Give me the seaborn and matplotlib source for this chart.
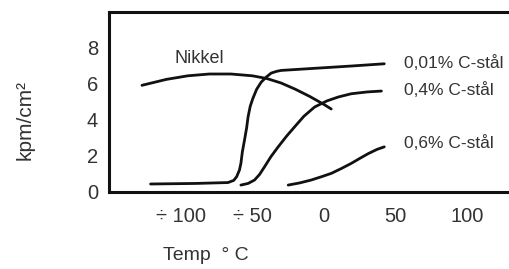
import numpy as np
import pandas as pd
import matplotlib
matplotlib.use("Agg")
import matplotlib.pyplot as plt
import seaborn as sns

# Curve values (temperature in deg C, kpm/cm2)
nikkel_t = [-127, -110, -95, -80, -65, -50, -40, -30, -20, -10, 0, 5]
nikkel_v = [5.92, 6.25, 6.45, 6.55, 6.55, 6.45, 6.3, 6.05, 5.7, 5.3, 4.85, 4.6]

c001_t = [-121, -90, -67, -63, -61, -59, -58, -57, -55.5, -54, -53, -51.5, -49.7, -47, -43.8, -40, -36.9, -33, -29.9, 0, 20, 42]
c001_v = [0.42, 0.45, 0.5, 0.62, 0.82, 1.2, 1.57, 2.2, 2.86, 3.55, 4.16, 4.75, 5.18, 5.7, 6.1, 6.4, 6.6, 6.7, 6.75, 6.9, 7.0, 7.12]

c04_t = [-58, -53, -48.5, -45, -41.5, -37, -32, -26, -20.6, -14, -6.6, 2, 10, 19, 30, 40]
c04_v = [0.36, 0.45, 0.64, 0.95, 1.38, 1.95, 2.49, 3.1, 3.6, 4.2, 4.71, 5.05, 5.27, 5.45, 5.55, 5.6]

c06_t = [-25, -17, -9, -2, 5, 12, 19, 25, 31, 37, 42]
c06_v = [0.36, 0.48, 0.64, 0.82, 1.01, 1.28, 1.57, 1.85, 2.12, 2.35, 2.49]

labels = ["0,01% C-stål", "0,4% C-stål", "0,6% C-stål"]
label_y = [7.15, 5.65, 2.72]
xticks = [-100, -50, 0, 50, 100]
xtick_labels = ["÷ 100", "÷ 50", "0", "50", "100"]
yticks = [0, 2, 4, 6, 8]

df = pd.concat([
    pd.DataFrame({"t": nikkel_t, "v": nikkel_v, "s": "Nikkel"}),
    pd.DataFrame({"t": c001_t, "v": c001_v, "s": labels[0]}),
    pd.DataFrame({"t": c04_t, "v": c04_v, "s": labels[1]}),
    pd.DataFrame({"t": c06_t, "v": c06_v, "s": labels[2]}),
])

sns.set_style("white")
plt.rcParams["font.family"] = ["Liberation Sans", "DejaVu Sans"]
text_col = "#333333"

fig = plt.figure(figsize=(5.1, 2.69), dpi=100)
ax = fig.add_axes([0.2137, 0.288, 0.79, 0.667])

for name, grp in df.groupby("s", sort=False):
    sns.lineplot(data=grp, x="t", y="v", ax=ax, color="#111111", linewidth=2.0,
                 sort=False, estimator=None, legend=False)

ax.set_xlim(-150, 131)
ax.set_ylim(0, 10)
ax.set_xticks(xticks)
ax.set_xticklabels(xtick_labels)
ax.set_yticks(yticks)
ax.tick_params(axis="both", direction="in", length=6.5, width=2.0, colors="#111111",
               labelcolor=text_col, labelsize=14.5, pad=8)
ax.tick_params(axis="x", pad=11)
for side in ["left", "bottom", "top"]:
    ax.spines[side].set_linewidth(2.2)
    ax.spines[side].set_color("#111111")
ax.spines["right"].set_visible(False)

ax.set_xlabel("Temp  ° C", fontsize=14, color=text_col)
ax.xaxis.set_label_coords(0.24, -0.31)
ax.set_ylabel("kpm/cm²", fontsize=15, color=text_col)
ax.yaxis.set_label_coords(-0.185, 0.4)

ax.text(-87, 7.4, "Nikkel", fontsize=13, color=text_col, ha="center", va="center")
for lab, yy in zip(labels, label_y):
    ax.text(56, yy, lab, fontsize=12.5, color=text_col, ha="left", va="center")

fig.savefig("out.png", dpi=100)
